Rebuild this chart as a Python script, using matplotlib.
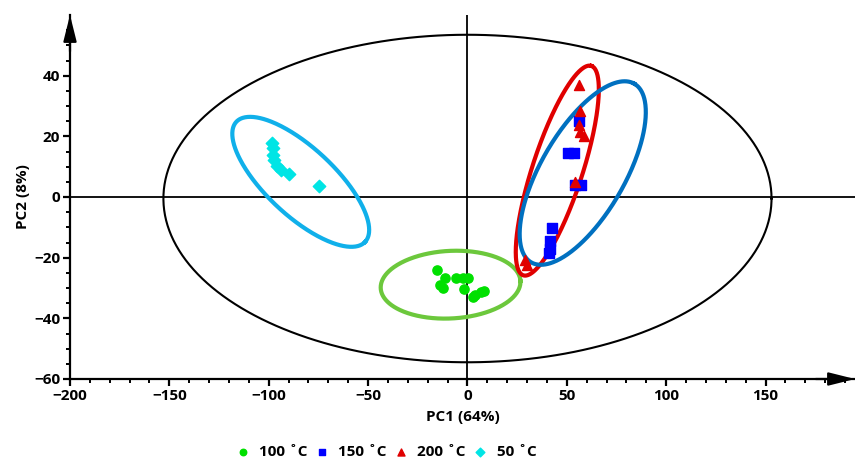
import matplotlib
matplotlib.use("Agg")
import matplotlib.pyplot as plt
import numpy as np

plt.rcParams['font.family'] = ['Open Sans', 'DejaVu Sans']
plt.rcParams['font.weight'] = 'bold'

# scores (PC1, PC2)
pc1_100 = [-15.2, -11.1, -13.6, -12.5, -6.0, -2.5, 0.5, -1.8, 4.0, 7.0, 8.5, 3.0]
pc2_100 = [-24.0, -26.7, -28.9, -30.0, -26.8, -26.8, -26.8, -30.4, -32.3, -31.2, -30.9, -33.0]

pc1_150 = [55.9, 50.5, 53.5, 54.0, 57.0, 42.6, 41.5, 41.5, 40.9]
pc2_150 = [25.0, 14.5, 14.5, 4.0, 4.0, -10.2, -14.5, -17.0, -18.5]

pc1_200 = [55.9, 56.8, 55.9, 56.8, 58.4, 54.3, 29.1, 30.2]
pc2_200 = [37.0, 28.2, 23.8, 21.5, 20.0, 5.1, -20.7, -22.3]

pc1_50 = [-98.6, -98.1, -98.1, -97.5, -95.6, -94.0, -89.8, -74.7]
pc2_50 = [17.8, 16.2, 14.0, 12.3, 10.1, 9.0, 7.7, 3.7]

labels = ['100 ˚C', '150 ˚C', '200 ˚C', '50 ˚C']

# confidence ellipses: centre, semi-axes (in PC1 units on screen), screen angle
ell_cx = [0.0, -8.5, 45.2, 58.0, -83.9]
ell_cy = [-0.5, -28.9, 8.7, 7.9, 5.0]
ell_a = [153.0, 35.2, 55.4, 51.9, 44.3]
ell_b = [82.4, 17.0, 12.6, 21.1, 17.1]
ell_ang = [0, 3, 72, 60, -43]
ell_col = ['black', '#6cc83c', '#e00000', '#0070c0', '#10b0ea']
ell_lw = [1.5, 3.0, 3.0, 3.0, 3.0]

fig = plt.figure(figsize=(8.55, 4.62), dpi=100)
ax = fig.add_axes([70/855, 83/462, 785/855, 364/462])
xmin, xmax, ymin, ymax = -200, 195, -60, 60
ax.set_xlim(xmin, xmax)
ax.set_ylim(ymin, ymax)

# ratio of screen px per unit y vs x
w_px = 785
h_px = 364
aspect = (h_px / (ymax - ymin)) / (w_px / (xmax - xmin))

t = np.linspace(0, 2 * np.pi, 400)
for cx, cy, a, b, ang, c, lw in zip(ell_cx, ell_cy, ell_a, ell_b, ell_ang, ell_col, ell_lw):
    th = np.radians(ang)
    u = a * np.cos(t)
    v = b * np.sin(t)
    xs = cx + u * np.cos(th) - v * np.sin(th)
    ys = cy + (u * np.sin(th) + v * np.cos(th)) / aspect
    ax.plot(xs, ys, color=c, lw=lw, zorder=2)

ax.axhline(0, color='black', lw=1.3, zorder=1)
ax.axvline(0, color='black', lw=1.3, zorder=1)

ax.scatter(pc1_100, pc2_100, marker='o', s=44, color='#00e000', label=labels[0], zorder=3)
ax.scatter(pc1_150, pc2_150, marker='s', s=44, color='#0000ff', label=labels[1], zorder=3)
ax.scatter(pc1_200, pc2_200, marker='^', s=52, color='#e00000', label=labels[2], zorder=3)
ax.scatter(pc1_50, pc2_50, marker='D', s=40, color='#00e5e5', label=labels[3], zorder=3)

for s in ['top', 'right']:
    ax.spines[s].set_visible(False)
for s in ['left', 'bottom']:
    ax.spines[s].set_linewidth(1.6)

ax.set_xticks(np.arange(-200, 151, 50))
ax.set_xticks(np.arange(-200, 191, 10), minor=True)
ax.set_yticks(np.arange(-60, 41, 20))
ax.set_yticks(np.arange(-60, 56, 5), minor=True)
ax.tick_params(which='major', length=5, width=1.6, labelsize=11, pad=2)
ax.tick_params(which='minor', length=3, width=1.4)

ax.set_xlabel('PC1 (64%)', fontsize=11, fontweight='bold', labelpad=5)
ax.set_ylabel('PC2 (8%)', fontsize=11, fontweight='bold', labelpad=3)

arrow = dict(arrowstyle='-|>,head_length=1.6,head_width=0.4', color='black',
             mutation_scale=10, lw=1.6, shrinkA=0, shrinkB=0)
ax.annotate('', xy=(1.0, 0), xytext=(0.95, 0), xycoords='axes fraction', arrowprops=arrow,
            annotation_clip=False)
ax.annotate('', xy=(0, 1.0), xytext=(0, 0.9), xycoords='axes fraction', arrowprops=arrow,
            annotation_clip=False)

fig.legend(loc='center', bbox_to_anchor=(0.451, 0.022), ncol=4, frameon=False,
           handletextpad=0.6, columnspacing=0.4, fontsize=11, markerscale=0.7,
           handlelength=1.0)

fig.savefig('out.png', dpi=100)
